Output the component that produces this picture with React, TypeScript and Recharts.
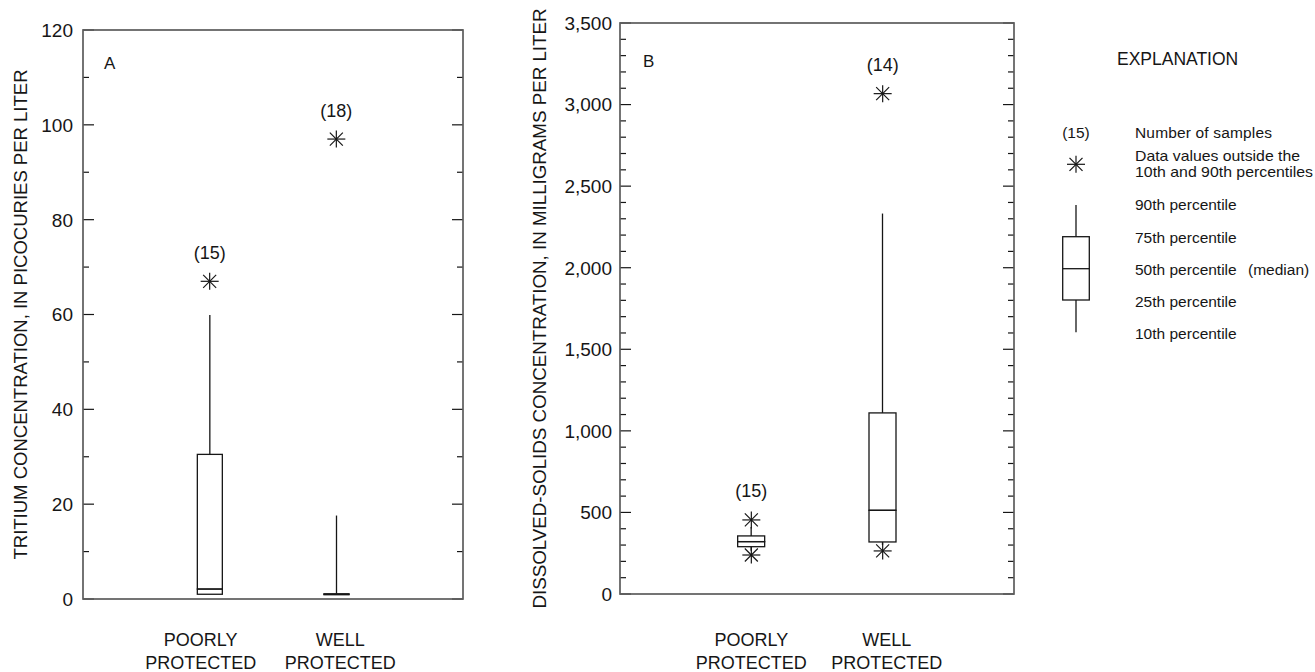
import React from 'react';
import { ComposedChart, Bar, Scatter, XAxis, YAxis, Label } from 'recharts';

// categories shared by both panels
const categories = ['poorly', 'well'];
const categoryLines = [
  ['POORLY', 'PROTECTED'],
  ['WELL', 'PROTECTED'],
];

// Panel A: tritium, picocuries per liter
const tritiumP10 = [1.0, 0.9];
const tritiumQ1 = [1.0, 0.9];
const tritiumMedian = [2.1, 1.0];
const tritiumQ3 = [30.5, 1.1];
const tritiumP90 = [59.9, 17.6];
const tritiumHigh = [67, 97];
const tritiumLow: (number | null)[] = [null, null];
const tritiumCount = [15, 18];
const tritiumMajorTicks = [0, 20, 40, 60, 80, 100, 120];
const tritiumAllTicks = [0, 10, 20, 30, 40, 50, 60, 70, 80, 90, 100, 110, 120];

// Panel B: dissolved solids, milligrams per liter
const solidsP10 = [265, 300];
const solidsQ1 = [290, 319];
const solidsMedian = [321, 513];
const solidsQ3 = [356, 1110];
const solidsP90 = [410, 2332];
const solidsHigh = [454, 3067];
const solidsLow: (number | null)[] = [239, 264];
const solidsCount = [15, 14];
const solidsMajorTicks = [0, 500, 1000, 1500, 2000, 2500, 3000, 3500];
const solidsAllTicks = [
  0, 100, 200, 300, 400, 500, 600, 700, 800, 900, 1000, 1100, 1200, 1300, 1400, 1500, 1600, 1700,
  1800, 1900, 2000, 2100, 2200, 2300, 2400, 2500, 2600, 2700, 2800, 2900, 3000, 3100, 3200, 3300, 3400, 3500,
];

const font = '"Liberation Sans", Arial, Helvetica, sans-serif';
const ink = '#161616';
const frame = '#5c5c5c';

function buildRows(
  p10: number[], q1: number[], med: number[], q3: number[], p90: number[],
  high: (number | null)[], low: (number | null)[], n: number[],
) {
  return categories.map((cat, i) => ({
    cat,
    base: p10[i],
    lowWhisker: q1[i] - p10[i],
    lowBox: med[i] - q1[i],
    highBox: q3[i] - med[i],
    highWhisker: p90[i] - q3[i],
    high: high[i],
    low: low[i],
    n: n[i],
  }));
}

const tritiumRows = buildRows(tritiumP10, tritiumQ1, tritiumMedian, tritiumQ3, tritiumP90, tritiumHigh, tritiumLow, tritiumCount);
const solidsRows = buildRows(solidsP10, solidsQ1, solidsMedian, solidsQ3, solidsP90, solidsHigh, solidsLow, solidsCount);

const Blank = () => <g />;

const WhiskerShape = (p: any) => {
  if (!p.height || p.height <= 0) return <g />;
  const cx = p.x + p.width / 2;
  return <line x1={cx} x2={cx} y1={p.y} y2={p.y + p.height} stroke={ink} strokeWidth={1.3} />;
};

const BoxShape = (p: any) => (
  <rect x={p.x} y={p.y} width={p.width} height={Math.max(p.height || 0, 0)} fill="none" stroke={ink} strokeWidth={1.3} />
);

function Star({ cx, cy }: { cx: number; cy: number }) {
  return (
    <g stroke={ink} strokeWidth={1.2}>
      <line x1={cx - 9} x2={cx + 9} y1={cy} y2={cy} />
      <line x1={cx} x2={cx} y1={cy - 8.5} y2={cy + 8.5} />
      <line x1={cx - 6.5} y1={cy - 6.5} x2={cx + 6.5} y2={cy + 6.5} />
      <line x1={cx - 6.5} y1={cy + 6.5} x2={cx + 6.5} y2={cy - 6.5} />
    </g>
  );
}

const HighShape = (p: any) => {
  if (p.payload?.high == null || !isFinite(p.cy)) return <g />;
  return (
    <g>
      <Star cx={p.cx} cy={p.cy} />
      <text x={p.cx} y={p.cy - 22.5} textAnchor="middle" fontSize={18} fontFamily={font} fill={ink}>
        ({p.payload.n})
      </text>
    </g>
  );
};

const LowShape = (p: any) => {
  if (p.payload?.low == null || !isFinite(p.cy)) return <g />;
  return <Star cx={p.cx} cy={p.cy} />;
};

interface PanelProps {
  rows: any[];
  left: number;
  width: number;
  margin: { top: number; right: number; bottom: number; left: number };
  plotWidth: number;
  yMax: number;
  major: number[];
  all: number[];
  barSize: number;
  title: string;
  titleX: number;
  titleY: number;
  titleLength: number;
  labelShift: number[];
  line1: number;
  line2: number;
  tickMargin: number;
  format: (v: number) => string;
}

function BoxPanel(props: PanelProps) {
  const pad = props.plotWidth / 6;
  const CatTick = (p: any) => {
    const i = categories.indexOf(p.payload.value);
    const lines = categoryLines[i] || [];
    const x = p.x + (props.labelShift[i] || 0);
    return (
      <g fontFamily={font} fontSize={18} fill={ink}>
        <text x={x} y={p.y + props.line1} textAnchor="middle">{lines[0]}</text>
        <text x={x} y={p.y + props.line2} textAnchor="middle">{lines[1]}</text>
      </g>
    );
  };
  // ticks point inward on both frame sides; labels only on the major ones
  const ValueTick = (p: any) => {
    const v = p.payload.value;
    const isMajor = props.major.includes(v);
    const xl = p.x + props.tickMargin;
    const xr = xl + props.plotWidth;
    const len = isMajor ? 11 : 6;
    return (
      <g>
        <line x1={xl} x2={xl + len} y1={p.y} y2={p.y} stroke={ink} strokeWidth={1.2} />
        <line x1={xr - len} x2={xr} y1={p.y} y2={p.y} stroke={ink} strokeWidth={1.2} />
        {isMajor && (
          <text x={p.x} y={p.y} dy="0.36em" textAnchor="end" fontSize={19} fontFamily={font} fill={ink}>
            {props.format(v)}
          </text>
        )}
      </g>
    );
  };
  return (
    <div style={{ position: 'absolute', left: props.left, top: 0 }}>
      <ComposedChart width={props.width} height={672} data={props.rows} margin={props.margin}>
        <XAxis
          dataKey="cat"
          type="category"
          padding={{ left: pad, right: pad }}
          height={60}
          axisLine={false}
          tickLine={false}
          tickSize={0}
          tickMargin={0}
          interval={0}
          tick={CatTick}
        />
        <YAxis
          yAxisId="main"
          type="number"
          domain={[0, props.yMax]}
          allowDataOverflow
          ticks={props.all}
          interval={0}
          width={60}
          tickLine={false}
          tickSize={0}
          tickMargin={props.tickMargin}
          axisLine={false}
          tick={ValueTick}
        >
          <Label
            content={() => (
              <text
                x={props.titleX}
                y={props.titleY}
                transform={`rotate(-90 ${props.titleX} ${props.titleY})`}
                textAnchor="middle"
                dominantBaseline="central"
                fontSize={18}
                fontFamily={font}
                fill={ink}
                textLength={props.titleLength}
                lengthAdjust="spacingAndGlyphs"
              >
                {props.title}
              </text>
            )}
          />
        </YAxis>
        <Bar yAxisId="main" dataKey="base" stackId="box" barSize={props.barSize} shape={Blank} isAnimationActive={false} />
        <Bar yAxisId="main" dataKey="lowWhisker" stackId="box" barSize={props.barSize} shape={WhiskerShape} isAnimationActive={false} />
        <Bar yAxisId="main" dataKey="lowBox" stackId="box" barSize={props.barSize} shape={BoxShape} isAnimationActive={false} />
        <Bar yAxisId="main" dataKey="highBox" stackId="box" barSize={props.barSize} shape={BoxShape} isAnimationActive={false} />
        <Bar yAxisId="main" dataKey="highWhisker" stackId="box" barSize={props.barSize} shape={WhiskerShape} isAnimationActive={false} />
        <Scatter yAxisId="main" dataKey="high" shape={HighShape} isAnimationActive={false} />
        <Scatter yAxisId="main" dataKey="low" shape={LowShape} isAnimationActive={false} />
      </ComposedChart>
    </div>
  );
}

function Overlay() {
  const t = { fontFamily: font, fontSize: 15.5, fill: ink };
  const tx = 1135;
  return (
    <svg width={1315} height={672} style={{ position: 'absolute', left: 0, top: 0, pointerEvents: 'none' }}>
      {/* panel frames */}
      <rect x={83} y={30} width={380} height={569} fill="none" stroke={frame} strokeWidth={1.7} />
      <rect x={620} y={23} width={394} height={571} fill="none" stroke={frame} strokeWidth={1.7} />
      <text x={104} y={68.5} fontFamily={font} fontSize={17} fill={ink}>A</text>
      <text x={643} y={67} fontFamily={font} fontSize={17} fill={ink}>B</text>
      <text x={1117} y={65} fontFamily={font} fontSize={17.5} fill={ink}>EXPLANATION</text>
      <text x={1076} y={138} textAnchor="middle" {...t}>(15)</text>
      <text x={tx} y={138} textLength={137} {...t}>Number of samples</text>
      <Star cx={1076} cy={164.3} />
      <text x={tx} y={160.5} fontSize={14.5} fontFamily={font} fill={ink} textLength={165} lengthAdjust="spacingAndGlyphs">
        Data values outside the
      </text>
      <text x={tx} y={177} fontSize={14.5} fontFamily={font} fill={ink} textLength={178} lengthAdjust="spacingAndGlyphs">
        10th and 90th percentiles
      </text>
      <text x={tx} y={209.7} {...t}>90th percentile</text>
      <text x={tx} y={243} {...t}>75th percentile</text>
      <text x={tx} y={274.7} {...t}>50th percentile</text>
      <text x={1248} y={274.7} {...t}>(median)</text>
      <text x={tx} y={306.7} {...t}>25th percentile</text>
      <text x={tx} y={339} {...t}>10th percentile</text>
      <g stroke={ink} strokeWidth={1.3} fill="none">
        <line x1={1076} x2={1076} y1={205} y2={236.7} />
        <rect x={1062.7} y={236.7} width={26.6} height={63.3} />
        <line x1={1062.7} x2={1089.3} y1={268.7} y2={268.7} />
        <line x1={1076} x2={1076} y1={300} y2={332.3} />
      </g>
    </svg>
  );
}

export default function App() {
  return (
    <div style={{ position: 'absolute', left: 0, top: 0, width: 1315, height: 672, background: '#fff' }}>
      <BoxPanel
        rows={tritiumRows}
        left={0}
        width={500}
        margin={{ top: 30, right: 37, bottom: 13, left: 23 }}
        plotWidth={380}
        yMax={120}
        major={tritiumMajorTicks}
        all={tritiumAllTicks}
        barSize={25}
        title="TRITIUM CONCENTRATION, IN PICOCURIES PER LITER"
        titleX={20.5}
        titleY={314.5}
        titleLength={490}
        labelShift={[-9, 4]}
        line1={47}
        line2={70}
        tickMargin={10}
        format={(v) => String(v)}
      />
      <BoxPanel
        rows={solidsRows}
        left={500}
        width={540}
        margin={{ top: 23, right: 26, bottom: 18, left: 60 }}
        plotWidth={394}
        yMax={3500}
        major={solidsMajorTicks}
        all={solidsAllTicks}
        barSize={27}
        title="DISSOLVED-SOLIDS CONCENTRATION, IN MILLIGRAMS PER LITER"
        titleX={40}
        titleY={308.5}
        titleLength={600}
        labelShift={[0, 4]}
        line1={52}
        line2={75}
        tickMargin={8}
        format={(v) => v.toLocaleString('en-US')}
      />
      <Overlay />
    </div>
  );
}
